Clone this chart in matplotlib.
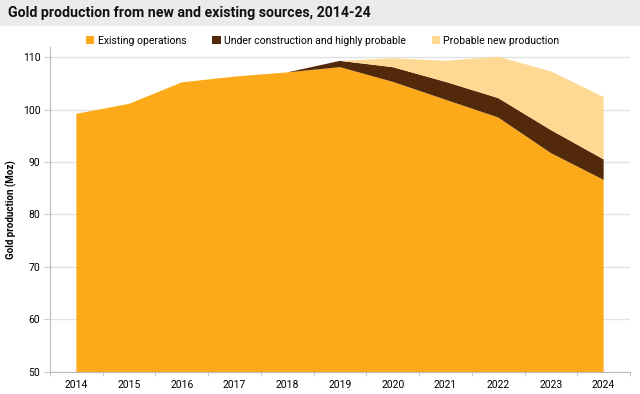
import numpy as np
import matplotlib
matplotlib.use('Agg')
from matplotlib import pyplot as plt
from matplotlib.patches import Rectangle

plt.rcParams['font.family'] = ['Roboto', 'DejaVu Sans']

# data (Moz)
years = ['2014', '2015', '2016', '2017', '2018', '2019', '2020', '2021', '2022', '2023', '2024']
existing = [99.2, 101.1, 105.2, 106.3, 107.1, 108.1, 105.3, 101.9, 98.5, 91.7, 86.6]
under_construction = [0, 0, 0, 0, 0, 1.2, 2.8, 3.4, 3.7, 4.4, 3.9]
probable = [0, 0, 0, 0, 0, 0, 1.7, 4.0, 7.9, 11.2, 11.9]

labels = ['Existing operations', 'Under construction and highly probable', 'Probable new production']
colors = ['#FDAA1A', '#52290A', '#FDD993']

fig = plt.figure(figsize=(6.4, 3.94), dpi=100)

# title bar
fig.patches.append(Rectangle((0, 1 - 26 / 394), 1, 26 / 394, transform=fig.transFigure,
                             facecolor='#EBEBEB', edgecolor='none', zorder=0))
fig.text(8 / 640, 1 - 13 / 394, 'Gold production from new and existing sources, 2014-24',
         fontsize=10.2, fontweight='bold', va='center', ha='left', color='#111111')

ax = fig.add_axes([50 / 640, 1 - 371.7 / 394, 580 / 640, (371.7 - 46.7) / 394])
x = np.arange(len(years))
ax.stackplot(x, existing, under_construction, probable, colors=colors, labels=labels, linewidth=0)

ax.set_xlim(-0.5, len(years) - 0.5)
ax.set_ylim(50, 112)
ax.set_yticks(range(50, 111, 10))
ax.set_xticks(x)
ax.set_xticklabels(years)
ax.set_xticks(np.arange(-0.5, len(years)), minor=True)
ax.tick_params(axis='x', which='major', length=0, pad=6, labelsize=7.5)
ax.tick_params(axis='x', which='minor', length=3, color='#BBBBBB', direction='out')
ax.tick_params(axis='y', length=4, color='#CCCCCC', pad=3, labelsize=7.5)
ax.grid(axis='y', color='#E2E2E2', linewidth=1)
ax.set_axisbelow(True)
for s in ['top', 'right']:
    ax.spines[s].set_visible(False)
for s in ['left', 'bottom']:
    ax.spines[s].set_color('#BBBBBB')
ax.set_ylabel('Gold production (Moz)', fontsize=7, fontweight='bold', labelpad=4)

ax.legend(loc='center', bbox_to_anchor=(0.47, 1.018), ncol=3, frameon=False, fontsize=7.5,
          handlelength=0.8, handleheight=0.8, handletextpad=0.3, columnspacing=2.5,
          borderaxespad=0)

fig.savefig('out.png', dpi=100)
